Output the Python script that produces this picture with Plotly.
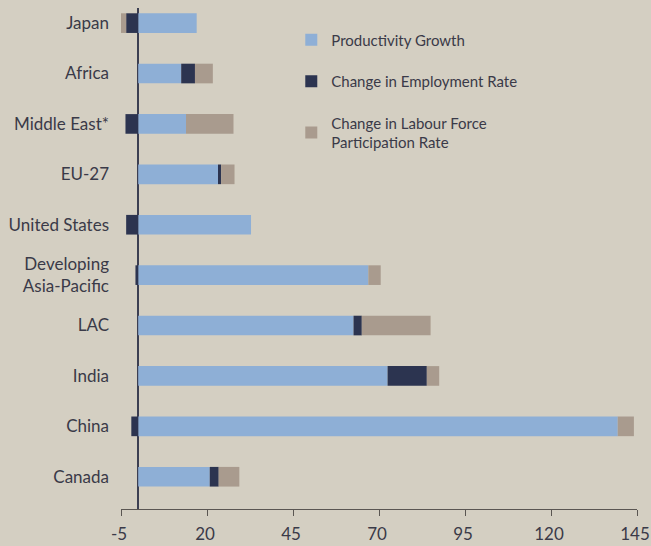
import plotly.graph_objects as go

categories = ["Japan", "Africa", "Middle East*", "EU-27", "United States",
              "Developing<br>Asia-Pacific", "LAC", "India", "China", "Canada"]
productivity = [17.0, 12.5, 13.9, 23.2, 32.8, 66.9, 62.6, 72.5, 139.4, 20.8]
employment = [-3.5, 4.0, -3.7, 0.9, -3.5, -0.8, 2.4, 11.4, -2.0, 2.6]
participation = [-1.5, 5.2, 13.8, 3.9, 0.0, 3.6, 20.0, 3.6, 4.7, 6.0]
tick_vals = [-5, 20, 45, 70, 95, 120, 145]
tick_text = ["-5", "20", "45", "70", "95", "120", "145"]

BG = "#d4cfc2"
TXT = "#3a3a48"
font_family = "Lato, 'Open Sans', sans-serif"

fig = go.Figure()
fig.add_trace(go.Bar(y=categories, x=productivity, orientation="h",
                     name="Productivity Growth", marker_color="#8eafd6",
                     marker_line_width=0, width=0.39, legendgroup="a"))
fig.add_trace(go.Bar(y=categories, x=employment, orientation="h",
                     name="Change in Employment Rate", marker_color="#2c3450",
                     marker_line_width=0, width=0.39, legendgroup="b"))
fig.add_trace(go.Bar(y=categories, x=participation, orientation="h",
                     name="Change in Labour Force<br>Participation Rate",
                     marker_color="#a99b8e",
                     marker_line_width=0, width=0.39, legendgroup="c"))

fig.update_layout(
    width=651, height=546,
    barmode="relative",
    paper_bgcolor=BG, plot_bgcolor=BG,
    margin=dict(l=121, r=14, t=8, b=37, autoexpand=False),
    font=dict(family=font_family, color=TXT, size=15),
    legend=dict(x=0.33, y=0.969, xanchor="left", yanchor="top",
                bgcolor="rgba(0,0,0,0)", traceorder="grouped",
                tracegroupgap=19, font=dict(size=15, color=TXT)),
    xaxis=dict(range=[-5, 145], tickvals=tick_vals, ticktext=tick_text,
               ticks="outside", automargin=False, ticklabelstandoff=3,
               ticklabeloverflow="allow", ticklabelshift=-2,
               ticklen=6, tickcolor="#5a5652", showgrid=False,
               showline=True, linecolor="#5a5652", linewidth=1.2,
               zeroline=True, zerolinecolor="#3c3f52", zerolinewidth=1.5,
               tickfont=dict(size=17, color=TXT)),
    yaxis=dict(type="category", categoryorder="array", categoryarray=categories,
               range=[9.64, -0.3], showgrid=False, showline=False,
               zeroline=False, ticks="", ticklabelstandoff=11,
               automargin=False,
               tickfont=dict(size=17, color=TXT)),
)

fig.write_html(
    "out.html",
    config={"displayModeBar": False},
    post_script="document.body.style.margin='0';document.body.style.background='%s';" % BG,
)
